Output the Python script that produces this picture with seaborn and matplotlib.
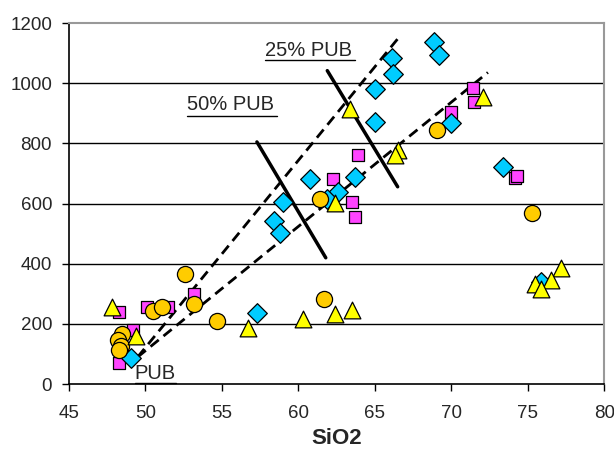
import matplotlib
matplotlib.use("Agg")
import matplotlib.pyplot as plt
import seaborn as sns

# ---- data ----
diamond_x = [49.1, 57.3, 59.0, 58.4, 58.8, 60.8, 62.6, 63.7, 61.9, 68.9, 69.2, 66.1, 66.2, 65.0, 65.0, 70.0, 73.4, 75.9]
diamond_y = [86, 237, 604, 542, 503, 683, 639, 689, 617, 1137, 1095, 1085, 1030, 980, 871, 869, 722, 340]

square_x = [48.3, 48.3, 49.2, 50.1, 51.5, 53.2, 62.3, 63.5, 63.7, 63.9, 71.4, 71.5, 70.0, 74.2, 74.3]
square_y = [70, 240, 180, 258, 258, 300, 682, 604, 554, 763, 985, 938, 905, 685, 692]

circle_x = [52.6, 53.2, 50.5, 51.1, 54.7, 48.5, 48.2, 48.4, 48.3, 61.4, 61.7, 69.1, 75.3]
circle_y = [365, 266, 243, 257, 209, 168, 148, 128, 115, 614, 282, 845, 568]

triangle_x = [47.8, 49.4, 56.7, 60.3, 62.4, 63.5, 62.4, 63.4, 66.5, 66.3, 72.1, 77.2, 76.5, 75.5, 75.9]
triangle_y = [255, 160, 188, 215, 232, 248, 603, 915, 778, 760, 955, 385, 345, 333, 315]

dash1_x = [49.5, 66.7]
dash1_y = [90, 1160]
dash2_x = [49.5, 72.4]
dash2_y = [90, 1036]
solidA_x = [57.3, 61.8]
solidA_y = [805, 420]
solidB_x = [61.9, 66.5]
solidB_y = [1042, 656]

x_ticks = [45, 50, 55, 60, 65, 70, 75, 80]
y_ticks = [0, 200, 400, 600, 800, 1000, 1200]

sns.set_style("white")
plt.rcParams['font.family'] = ['Liberation Sans', 'DejaVu Sans']

fig = plt.figure(figsize=(6.14, 4.53), dpi=100)
ax = fig.add_axes([0.112, 0.152, 0.872, 0.797])

# gridlines
for yv in y_ticks[1:-1]:
    ax.axhline(yv, color='black', lw=1.0, zorder=1)

# reference lines
ax.plot(dash1_x, dash1_y, color='black', lw=2.0, ls=(0, (3.8, 2.2)), zorder=2)
ax.plot(dash2_x, dash2_y, color='black', lw=2.0, ls=(0, (3.8, 2.2)), zorder=2)
ax.plot(solidA_x, solidA_y, color='black', lw=2.5, zorder=2)
ax.plot(solidB_x, solidB_y, color='black', lw=2.5, zorder=2)

sns.scatterplot(x=square_x, y=square_y, marker='s', s=78, color='#FF44FF',
                edgecolor='black', linewidth=0.9, ax=ax, zorder=3)
sns.scatterplot(x=diamond_x, y=diamond_y, marker='D', s=100, color='#00CCFF',
                edgecolor='black', linewidth=0.9, ax=ax, zorder=4)
sns.scatterplot(x=circle_x, y=circle_y, marker='o', s=135, color='#FFCC00',
                edgecolor='black', linewidth=0.9, ax=ax, zorder=5)
sns.scatterplot(x=triangle_x, y=triangle_y, marker='^', s=145, color='#FFFF00',
                edgecolor='black', linewidth=0.9, ax=ax, zorder=6)

ax.set_xlim(45, 80)
ax.set_ylim(0, 1200)
ax.set_xticks(x_ticks)
ax.set_yticks(y_ticks)
ax.tick_params(axis='both', labelsize=13.5, direction='out', length=5, width=1,
               color='black', bottom=True, left=True)
ax.tick_params(axis='x', pad=10)
ax.tick_params(axis='y', pad=7)
ax.set_xlabel('SiO2', fontsize=16, fontweight='bold', labelpad=4)

for side in ['left', 'bottom']:
    ax.spines[side].set_color('black')
    ax.spines[side].set_linewidth(1.2)
for side in ['top', 'right']:
    ax.spines[side].set_color('#999999')
    ax.spines[side].set_linewidth(1.5)

ax.text(57.85, 1110, '25% PUB', fontsize=14.5, va='center', ha='left')
ax.text(52.75, 929, '50% PUB', fontsize=14.5, va='center', ha='left')
ax.text(49.3, 34, 'PUB', fontsize=14.5, va='center', ha='left')
# underlines
ax.plot([57.85, 63.7], [1077, 1077], color='black', lw=1)
ax.plot([52.75, 58.6], [891, 891], color='black', lw=1)
ax.plot([49.3, 52.0], [4, 4], color='black', lw=1, clip_on=False)

fig.savefig('out.png', dpi=100)
